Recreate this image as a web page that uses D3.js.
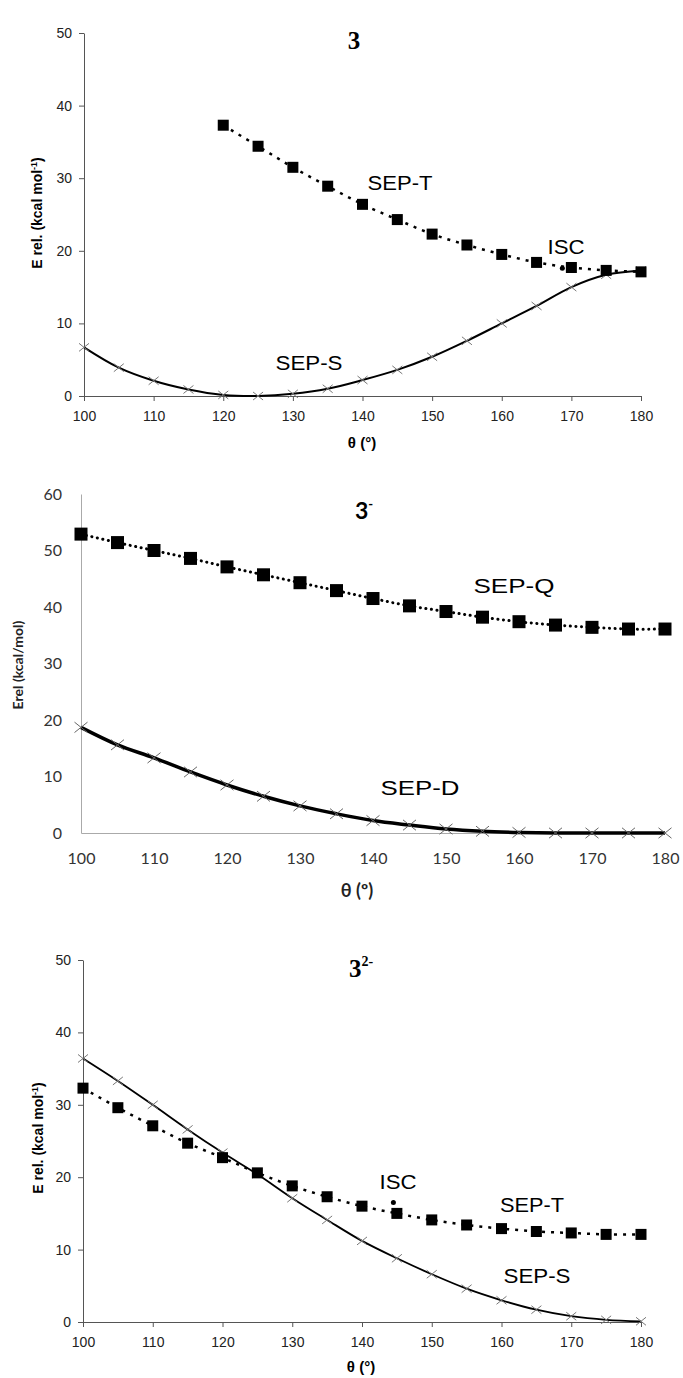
<!DOCTYPE html>
<html lang="en">
<head>
<meta charset="UTF-8">
<title>Energy profiles 3, 3-, 3 2-</title>
<script src="https://d3js.org/d3.v7.min.js"></script>
<style>
    body { margin: 0; background: #fff; }
</style>
</head>
<body>
<svg id="chart" width="683" height="1378"></svg>
<script>
// angles (deg)
const theta = [100, 105, 110, 115, 120, 125, 130, 135, 140, 145, 150, 155, 160, 165, 170, 175, 180];
const xTicks = [100, 110, 120, 130, 140, 150, 160, 170, 180];

// panel 3 (neutral)
const n_sepT_theta = [120, 125, 130, 135, 140, 145, 150, 155, 160, 165, 170, 175, 180];
const n_sepT = [37.3, 34.4, 31.5, 28.9, 26.4, 24.3, 22.3, 20.8, 19.5, 18.4, 17.7, 17.3, 17.1];
const n_sepS = [6.7, 3.9, 2.1, 0.9, 0.15, 0, 0.3, 1.0, 2.2, 3.6, 5.4, 7.6, 10.0, 12.4, 15.0, 16.7, 17.3];
const n_isc = [168.7, 17.6];

// anion 3-
const a_sepQ = [52.9, 51.4, 50.0, 48.6, 47.1, 45.7, 44.3, 42.9, 41.5, 40.2, 39.2, 38.2, 37.4, 36.8, 36.4, 36.1, 36.1];
const a_sepD = [18.7, 15.6, 13.3, 10.8, 8.5, 6.5, 4.8, 3.4, 2.2, 1.4, 0.7, 0.3, 0.1, 0, 0, 0, 0];

// dianion 3 2-
const d_sepT = [32.3, 29.6, 27.1, 24.7, 22.7, 20.6, 18.8, 17.3, 16.0, 15.0, 14.1, 13.4, 12.9, 12.5, 12.3, 12.1, 12.1];
const d_sepS = [36.4, 33.3, 30.0, 26.6, 23.4, 20.4, 17.1, 14.1, 11.2, 8.8, 6.6, 4.6, 3.0, 1.7, 0.8, 0.3, 0.1];
const d_isc = [144.5, 16.5];

const svg = d3.select("#chart");
const arial = "'Liberation Sans', Arial, sans-serif";
const times = "'Liberation Serif', 'Times New Roman', serif";
const calib = "Lato, 'Open Sans', sans-serif";

function zip(xs, ys) { return xs.map((x, i) => [x, ys[i]]); }

function drawSquares(g, x, y, pts, size) {
    g.selectAll(null).data(pts).enter().append("rect")
        .attr("x", d => x(d[0]) - size / 2)
        .attr("y", d => y(d[1]) - size / 2)
        .attr("width", size).attr("height", size)
        .attr("fill", "#000");
}

function drawCrosses(g, x, y, pts, r, color) {
    g.selectAll(null).data(pts).enter().append("path")
        .attr("d", d => {
            const cx = x(d[0]), cy = y(d[1]);
            return `M${cx - r},${cy - r * 0.8}L${cx + r},${cy + r * 0.8}M${cx - r},${cy + r * 0.8}L${cx + r},${cy - r * 0.8}`;
        })
        .attr("stroke", color).attr("stroke-width", 1).attr("fill", "none");
}

function lineFn(x, y) {
    return d3.line().x(d => x(d[0])).y(d => y(d[1])).curve(d3.curveCatmullRom.alpha(0.5));
}

// curve label, stretched to the width seen in the picture
function label(g, cx, by, txt, size, len) {
    g.append("text").attr("x", cx - len / 2).attr("y", by)
        .attr("font-family", arial).attr("font-size", size)
        .attr("textLength", len).attr("lengthAdjust", "spacingAndGlyphs").text(txt);
}

// ---------- panel 1 : 3 ----------
{
    const x = d3.scaleLinear().domain([100, 180]).range([84, 641]);
    const y = d3.scaleLinear().domain([0, 50]).range([396, 33]);
    const g = svg.append("g");

    g.append("g").attr("transform", "translate(0,396)")
        .call(d3.axisBottom(x).tickValues(xTicks).tickSize(5).tickSizeOuter(0).tickPadding(10))
        .call(a => a.selectAll("text").attr("font-size", 14).attr("fill", "#222").attr("font-family", arial))
        .call(a => a.selectAll("line,path").attr("stroke", "#555"));
    g.append("g").attr("transform", "translate(84,0)")
        .call(d3.axisLeft(y).tickValues([0, 10, 20, 30, 40, 50]).tickSize(5).tickSizeOuter(0).tickPadding(7))
        .call(a => a.selectAll("text").attr("font-size", 14).attr("fill", "#222").attr("font-family", arial))
        .call(a => a.selectAll("line,path").attr("stroke", "#555"));

    const sS = zip(theta, n_sepS);
    const sT = zip(n_sepT_theta, n_sepT);
    g.append("path").datum(sS).attr("d", lineFn(x, y))
        .attr("fill", "none").attr("stroke", "#000").attr("stroke-width", 2);
    drawCrosses(g, x, y, sS, 5, "#777");
    g.append("path").datum(sT).attr("d", lineFn(x, y))
        .attr("fill", "none").attr("stroke", "#000").attr("stroke-width", 2.5).attr("stroke-dasharray", "3,6");
    drawSquares(g, x, y, sT, 11);
    g.append("circle").attr("cx", x(n_isc[0])).attr("cy", y(n_isc[1])).attr("r", 2.5).attr("fill", "#000");

    g.append("text").attr("x", 354).attr("y", 49).attr("text-anchor", "middle")
        .attr("font-family", times).attr("font-weight", "bold").attr("font-size", 25).text("3");
    label(g, 400, 190, "SEP-T", 20, 65);
    label(g, 566, 254, "ISC", 20, 37);
    label(g, 309, 370, "SEP-S", 20, 67);
    g.append("text").attr("x", 362).attr("y", 448).attr("text-anchor", "middle")
        .attr("font-family", arial).attr("font-weight", "bold").attr("font-size", 15).text("θ (°)");
    const yl = g.append("text").attr("transform", "translate(42,213) rotate(-90)").attr("text-anchor", "middle")
        .attr("font-family", arial).attr("font-weight", "bold").attr("font-size", 14);
    yl.append("tspan").text("E rel. (kcal mol");
    yl.append("tspan").attr("dy", -5).attr("font-size", 9).text("-1");
    yl.append("tspan").attr("dy", 5).text(")");
}

// ---------- panel 2 : 3- ----------
{
    const x = d3.scaleLinear().domain([100, 180]).range([81, 665]);
    const y = d3.scaleLinear().domain([0, 60]).range([833, 494]);
    const g = svg.append("g");

    g.append("g").attr("transform", "translate(0,833)")
        .call(d3.axisBottom(x).tickValues(xTicks).tickSize(0).tickSizeOuter(0).tickPadding(20))
        .call(a => a.selectAll("text").attr("font-size", 16).attr("fill", "#333").attr("font-family", calib))
        .call(a => a.selectAll("path").attr("stroke", "#aaa"));
    g.append("g").attr("transform", "translate(81,0)")
        .call(d3.axisLeft(y).tickValues([0, 10, 20, 30, 40, 50, 60]).tickSize(0).tickSizeOuter(0).tickPadding(19))
        .call(a => a.selectAll("text").attr("font-size", 16).attr("fill", "#333").attr("font-family", calib))
        .call(a => a.selectAll("path").attr("stroke", "#aaa"));

    const sD = zip(theta, a_sepD);
    const sQ = zip(theta, a_sepQ);
    g.append("path").datum(sD).attr("d", lineFn(x, y))
        .attr("fill", "none").attr("stroke", "#000").attr("stroke-width", 3.5);
    drawCrosses(g, x, y, sD, 6.5, "#666");
    g.append("path").datum(sQ).attr("d", lineFn(x, y))
        .attr("fill", "none").attr("stroke", "#000").attr("stroke-width", 3)
        .attr("stroke-linecap", "round").attr("stroke-dasharray", "0.1,5.5");
    drawSquares(g, x, y, sQ, 13);

    const t = g.append("text").attr("x", 355).attr("y", 519)
        .attr("font-family", calib).attr("font-weight", "bold").attr("font-size", 23);
    t.append("tspan").text("3");
    t.append("tspan").attr("dy", -10).attr("font-size", 13).text("-");
    label(g, 514, 593, "SEP-Q", 20, 81);
    label(g, 420, 795, "SEP-D", 20, 79);
    g.append("text").attr("x", 357).attr("y", 897).attr("text-anchor", "middle")
        .attr("font-family", calib).attr("font-weight", "bold").attr("font-size", 18).attr("fill", "#222").text("θ (º)");
    g.append("text").attr("transform", "translate(23,665) rotate(-90)").attr("text-anchor", "middle")
        .attr("font-family", calib).attr("font-weight", "bold").attr("font-size", 14).attr("fill", "#222")
        .text("Erel (kcal/mol)");
}

// ---------- panel 3 : 3 2- ----------
{
    const x = d3.scaleLinear().domain([100, 180]).range([83, 641]);
    const y = d3.scaleLinear().domain([0, 50]).range([1322, 960]);
    const g = svg.append("g");

    g.append("g").attr("transform", "translate(0,1322)")
        .call(d3.axisBottom(x).tickValues(xTicks).tickSize(5).tickSizeOuter(0).tickPadding(10))
        .call(a => a.selectAll("text").attr("font-size", 14).attr("fill", "#222").attr("font-family", arial))
        .call(a => a.selectAll("line,path").attr("stroke", "#555"));
    g.append("g").attr("transform", "translate(83,0)")
        .call(d3.axisLeft(y).tickValues([0, 10, 20, 30, 40, 50]).tickSize(5).tickSizeOuter(0).tickPadding(7))
        .call(a => a.selectAll("text").attr("font-size", 14).attr("fill", "#222").attr("font-family", arial))
        .call(a => a.selectAll("line,path").attr("stroke", "#555"));

    const sS = zip(theta, d_sepS);
    const sT = zip(theta, d_sepT);
    g.append("path").datum(sS).attr("d", lineFn(x, y))
        .attr("fill", "none").attr("stroke", "#000").attr("stroke-width", 1.8);
    drawCrosses(g, x, y, sS, 5, "#777");
    g.append("path").datum(sT).attr("d", lineFn(x, y))
        .attr("fill", "none").attr("stroke", "#000").attr("stroke-width", 2.5).attr("stroke-dasharray", "3,6");
    drawSquares(g, x, y, sT, 11);
    g.append("circle").attr("cx", x(d_isc[0])).attr("cy", y(d_isc[1])).attr("r", 2.5).attr("fill", "#000");

    const t = g.append("text").attr("x", 349).attr("y", 977)
        .attr("font-family", times).attr("font-weight", "bold").attr("font-size", 25);
    t.append("tspan").text("3");
    t.append("tspan").attr("dy", -11).attr("font-size", 14).text("2-");
    label(g, 398, 1189, "ISC", 20, 37);
    label(g, 532, 1212, "SEP-T", 20, 64);
    label(g, 537, 1283, "SEP-S", 20, 67);
    g.append("text").attr("x", 361).attr("y", 1372).attr("text-anchor", "middle")
        .attr("font-family", arial).attr("font-weight", "bold").attr("font-size", 15).text("θ (°)");
    const yl = g.append("text").attr("transform", "translate(43,1138) rotate(-90)").attr("text-anchor", "middle")
        .attr("font-family", arial).attr("font-weight", "bold").attr("font-size", 14);
    yl.append("tspan").text("E rel. (kcal mol");
    yl.append("tspan").attr("dy", -5).attr("font-size", 9).text("-1");
    yl.append("tspan").attr("dy", 5).text(")");
}
</script>
</body>
</html>
